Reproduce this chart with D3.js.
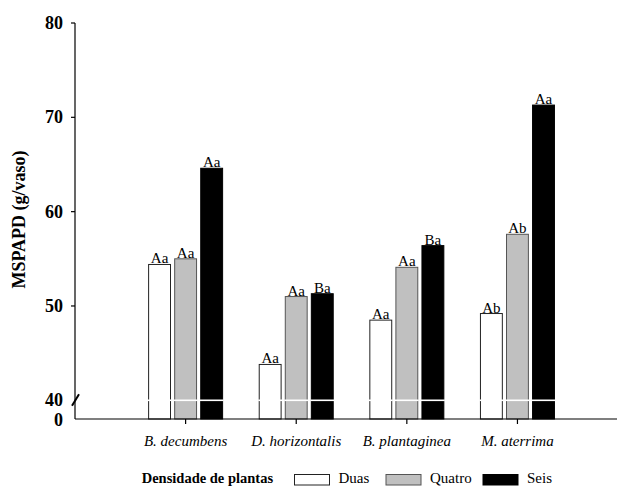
<!DOCTYPE html>
<html>
<head>
<meta charset="utf-8">
<script src="https://cdn.jsdelivr.net/npm/d3@7"></script>
<style>
  html, body { margin: 0; padding: 0; background: #fff; }
  svg { display: block; }
</style>
</head>
<body>
<script>
// ---- data ----
const categories = ["B. decumbens", "D. horizontalis", "B. plantaginea", "M. aterrima"];
const series = ["Duas", "Quatro", "Seis"];
const duas   = [54.4, 43.8, 48.5, 49.2];
const quatro = [55.0, 51.0, 54.1, 57.6];
const seis   = [64.6, 51.3, 56.4, 71.3];
const duasLabels   = ["Aa", "Aa", "Aa", "Ab"];
const quatroLabels = ["Aa", "Aa", "Aa", "Ab"];
const seisLabels   = ["Aa", "Ba", "Ba", "Aa"];
const yTicks = [80, 70, 60, 50, 40, 0];
const yTitle = "MSPAPD (g/vaso)";
const legendTitle = "Densidade de plantas";

const values = [duas, quatro, seis];
const labels = [duasLabels, quatroLabels, seisLabels];
const fills = ["#ffffff", "#c0c0c0", "#000000"];
const strokes = ["#222222", "#555555", "#000000"];

const W = 618, H = 488;
const svg = d3.select("body").append("svg").attr("width", W).attr("height", H);

// scales
const x = d3.scaleLinear().domain([0, 4.9]).range([75, 617]);
const inner = d3.scaleBand().domain(series).range([-37, 37]).paddingInner(0.16);
// broken axis: 0..40 compressed, 40..80 regular
const y = d3.scaleLinear().domain([0, 40, 80]).range([419, 400.3, 23]);

const serif = "Liberation Serif, Times New Roman, serif";

// bars
series.forEach((s, si) => {
  const g = svg.append("g");
  categories.forEach((c, ci) => {
    const v = values[si][ci];
    const bx = x(ci + 1) + inner(s);
    const bw = inner.bandwidth();
    g.append("rect")
      .attr("x", bx).attr("y", y(v))
      .attr("width", bw).attr("height", y(0) - y(v))
      .attr("fill", fills[si])
      .attr("stroke", strokes[si])
      .attr("stroke-width", 1);
    g.append("text")
      .attr("x", bx + bw / 2).attr("y", y(v) - 1)
      .attr("text-anchor", "middle")
      .attr("font-family", serif).attr("font-size", 15)
      .attr("fill", "#000")
      .text(labels[si][ci]);
    // break line across the bar
    g.append("line")
      .attr("x1", bx - 1).attr("x2", bx + bw + 1)
      .attr("y1", y(40)).attr("y2", y(40))
      .attr("stroke", "#fff").attr("stroke-width", 1.6);
  });
});

// axes lines
svg.append("line").attr("x1", 75).attr("x2", 75).attr("y1", y(80)).attr("y2", y(0))
  .attr("stroke", "#000").attr("stroke-width", 1.2);
svg.append("line").attr("x1", 75).attr("x2", 617).attr("y1", y(0)).attr("y2", y(0))
  .attr("stroke", "#000").attr("stroke-width", 1.2);

// y ticks
yTicks.forEach(t => {
  if (t >= 50) {
    svg.append("line").attr("x1", 71).attr("x2", 75).attr("y1", y(t)).attr("y2", y(t))
      .attr("stroke", "#000").attr("stroke-width", 1.2);
  }
  svg.append("text")
    .attr("x", 63).attr("y", y(t) + (t === 0 ? 1 : 0))
    .attr("dy", "0.34em")
    .attr("text-anchor", "end")
    .attr("font-family", serif).attr("font-weight", "bold").attr("font-size", 18)
    .text(t);
});

// axis break slash
svg.append("line").attr("x1", 72).attr("y1", y(40) + 5.5).attr("x2", 79).attr("y2", y(40) - 6)
  .attr("stroke", "#000").attr("stroke-width", 2);

// x ticks and labels
categories.forEach((c, ci) => {
  svg.append("line").attr("x1", x(ci + 1)).attr("x2", x(ci + 1))
    .attr("y1", y(0)).attr("y2", y(0) + 5)
    .attr("stroke", "#000").attr("stroke-width", 1.2);
  svg.append("text")
    .attr("x", x(ci + 1)).attr("y", 446)
    .attr("text-anchor", "middle")
    .attr("font-family", serif).attr("font-style", "italic").attr("font-size", 15)
    .text(c);
});

// y title
svg.append("text")
  .attr("transform", `translate(25,219.5) rotate(-90)`)
  .attr("text-anchor", "middle")
  .attr("font-family", serif).attr("font-weight", "bold").attr("font-size", 18)
  .text(yTitle);

// legend
svg.append("text")
  .attr("x", 141.7).attr("y", 483)
  .attr("font-family", serif).attr("font-weight", "bold").attr("font-size", 14.5)
  .text(legendTitle);
const legX = [294.5, 386, 483];
series.forEach((s, si) => {
  svg.append("rect")
    .attr("x", legX[si]).attr("y", 474.5)
    .attr("width", 35).attr("height", 10.5)
    .attr("fill", fills[si]).attr("stroke", strokes[si]).attr("stroke-width", 1);
  svg.append("text")
    .attr("x", legX[si] + 44).attr("y", 483)
    .attr("font-family", serif).attr("font-size", 15)
    .text(s);
});
</script>
</body>
</html>
